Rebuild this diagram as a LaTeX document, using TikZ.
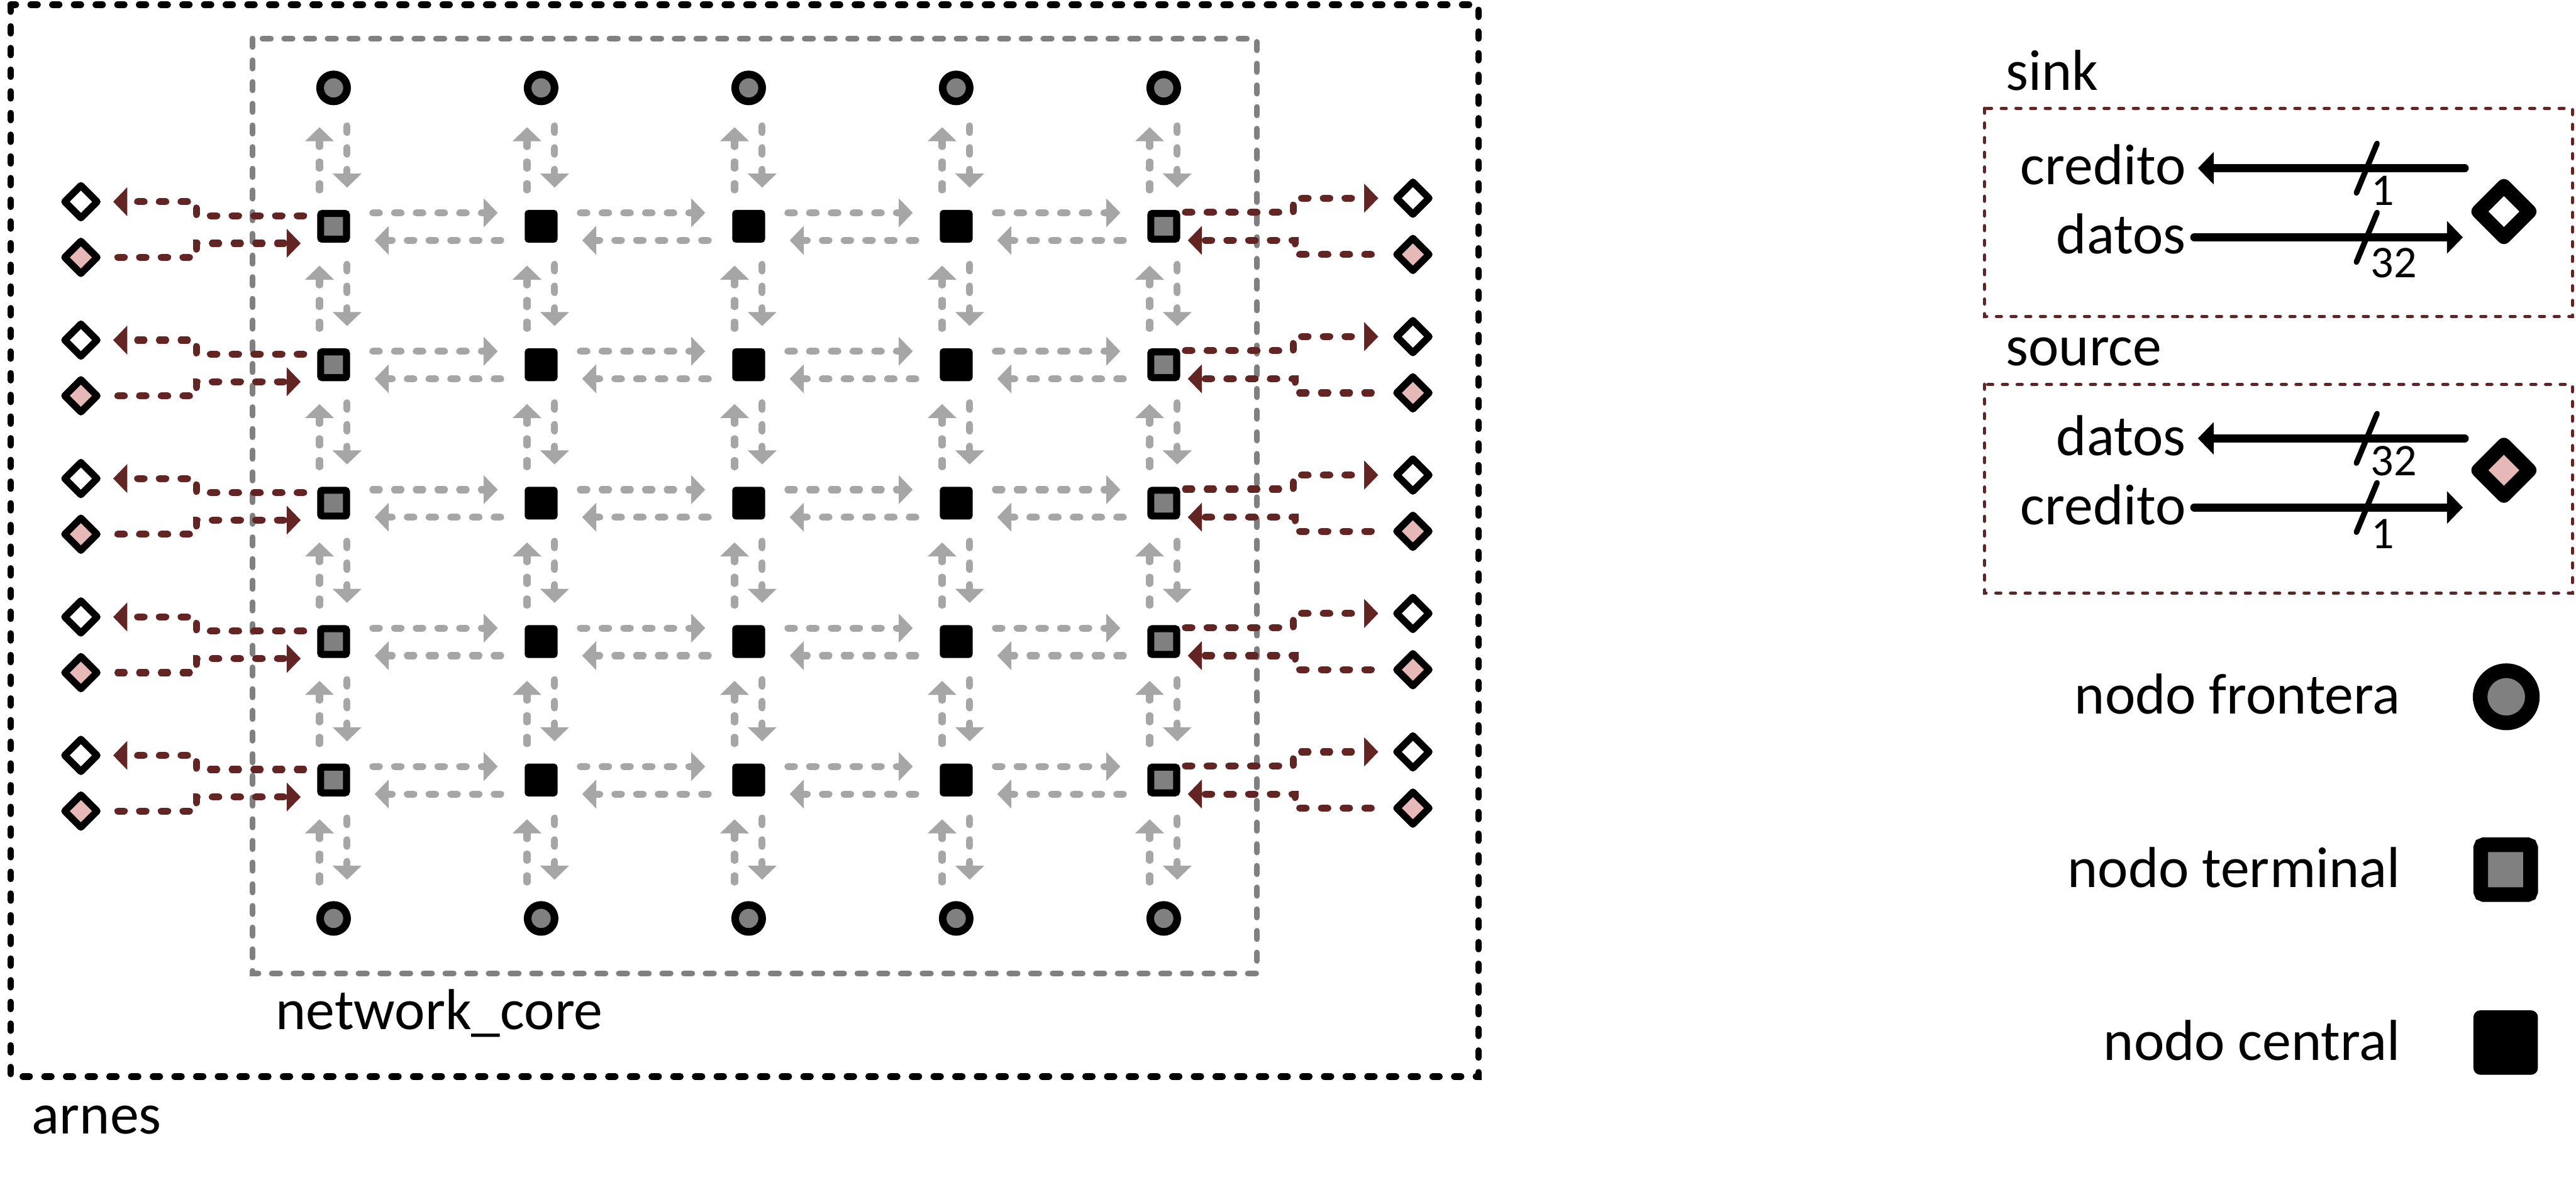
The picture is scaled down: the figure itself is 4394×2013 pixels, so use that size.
\documentclass[tikz,border=0pt]{standalone}
\usepackage{fontspec}
\setmainfont{Carlito}
\usetikzlibrary{arrows.meta,calc,shapes.geometric}
\definecolor{dred}{HTML}{632523}
\definecolor{pinkf}{HTML}{E6B9B8}
\definecolor{gfill}{HTML}{808080}
\definecolor{garr}{HTML}{A6A6A6}
\definecolor{gcore}{HTML}{808080}
\begin{document}
\begin{tikzpicture}[x=0.01cm,y=-0.01cm,
  lbl/.style={font=\fontsize{28}{34}\selectfont, inner sep=0pt},
  num/.style={font=\fontsize{22}{26}\selectfont, inner sep=0pt},
  frontera/.style={circle, draw=black, fill=gfill, line width=3.70pt, minimum size=13.09pt, inner sep=0pt},
  terminal/.style={rectangle, draw=black, fill=gfill, line width=3.41pt, minimum size=12.52pt, inner sep=0pt, rounded corners=0.8pt},
  central/.style={rectangle, fill=black, minimum size=15.93pt, inner sep=0pt, rounded corners=1.7pt},
  sinkd/.style={diamond, draw=black, fill=white, line width=3.41pt, minimum size=17.07pt, inner sep=0pt, line join=round},
  srcd/.style={sinkd, fill=pinkf},
  garrow/.style={draw=garr, line width=3.41pt, line cap=round, dash pattern=on 3.13pt off 7.4pt, -{Triangle[length=6.83pt,width=13.66pt]}},
  rarrow/.style={garrow, draw=dred},
  lfront/.style={frontera, line width=7.11pt, minimum size=25.3pt},
  lterm/.style={terminal, line width=7.11pt, minimum size=24.2pt, rounded corners=1.5pt},
  lcent/.style={central, minimum size=31.3pt, rounded corners=3.4pt},
  lsink/.style={sinkd, line width=6.83pt, minimum size=27.6pt},
  lsrc/.style={lsink, fill=pinkf},
  larrow/.style={draw=black, line width=4pt, line cap=round, -{Triangle[length=7.68pt,width=15.36pt]}},
  slashline/.style={draw=black, line width=2.73pt, line cap=round},
  boxr/.style={draw=dred, line width=1.71pt, line cap=round, dash pattern=on 2.28pt off 4.84pt},
  arnesbox/.style={draw=black, line width=3.13pt, line cap=round, dash pattern=on 3.41pt off 7.11pt},
  corebox/.style={draw=gcore, line width=2.85pt, line cap=round, dash pattern=on 3.98pt off 6.54pt}
]
\useasboundingbox (0,0) rectangle (4394,2013);

% containers
\draw[arnesbox] (18,8) rectangle (2522,1837);
\draw[corebox] (431,66) rectangle (2144,1661);
\node[lbl, anchor=base west] (corelbl) at (470,1757) {network\_core};
\node[lbl, anchor=base west] (arneslbl) at (54,1935) {arnes};

% nodes
\foreach \ci in {1,...,5}{
  \foreach \ri in {0,6}{
    \node[frontera] (n\ci\ri) at ({569+354*(\ci-1)},{150+236.2*\ri}) {};
  }
}
\foreach \ci in {1,5}{
  \foreach \ri in {1,...,5}{
    \node[terminal] (n\ci\ri) at ({569+354*(\ci-1)},{150+236.2*\ri}) {};
  }
}
\foreach \ci in {2,3,4}{
  \foreach \ri in {1,...,5}{
    \node[central] (n\ci\ri) at ({569+354*(\ci-1)},{150+236.2*\ri}) {};
  }
}

% vertical arrows
\foreach \ci in {1,...,5}{
  \foreach \ri [evaluate=\ri as \rnext using {int(\ri+1)}] in {0,...,5}{
    \draw[garrow] ($(n\ci\rnext)+(-24,-62)$) -- ($(n\ci\ri)+(-24,67)$);
    \draw[garrow] ($(n\ci\ri)+(23,65)$) -- ($(n\ci\rnext)+(23,-66)$);
  }
}
% horizontal arrows
\foreach \ci [evaluate=\ci as \cnext using {int(\ci+1)}] in {1,...,4}{
  \foreach \ri in {1,...,5}{
    \draw[garrow] ($(n\ci\ri)+(67,-23)$) -- ($(n\cnext\ri)+(-74,-23)$);
    \draw[garrow] ($(n\cnext\ri)+(-69,24)$) -- ($(n\ci\ri)+(70,24)$);
  }
}

% sinks and sources of the harness
\foreach \ri in {1,...,5}{
  \node[sinkd] (wl\ri) at ($(n1\ri)+(-431,-42)$) {};
  \node[srcd]  (pl\ri) at ($(n1\ri)+(-431,53)$) {};
  \node[sinkd] (wr\ri) at ($(n5\ri)+(425,-48)$) {};
  \node[srcd]  (pr\ri) at ($(n5\ri)+(425,48)$) {};
  \draw[rarrow] ($(n1\ri)+(-51,-18)$) -- ($(n1\ri)+(-234,-18)$) -- ($(n1\ri)+(-234,-42)$) -- ($(wl\ri)+(55,0)$);
  \draw[rarrow] ($(pl\ri)+(63,0)$) -- ($(n1\ri)+(-234,53)$) -- ($(n1\ri)+(-234,29)$) -- ($(n1\ri)+(-56,29)$);
  \draw[rarrow] ($(n5\ri)+(37,-24)$) -- ($(n5\ri)+(221,-24)$) -- ($(n5\ri)+(221,-48)$) -- ($(wr\ri)+(-59,0)$);
  \draw[rarrow] ($(pr\ri)+(-71,0)$) -- ($(n5\ri)+(224,48)$) -- ($(n5\ri)+(224,24)$) -- ($(n5\ri)+(41,24)$);
}

% legend: sink
\node[lbl, anchor=base west] (sinklbl) at (3421,154) {sink};
\draw[boxr] (3385,185) rectangle (4388,540);
\node[lsink] (sd) at (4271,361) {};
\node[lbl, anchor=base east] (skcred) at (3729,315) {credito};
\node[lbl, anchor=base east] (skdat) at (3729,433) {datos};
\draw[larrow] ($(sd)+(-67,-74)$) -- ($(skcred.base east)+(20,-28)$);
\draw[larrow] ($(skdat.base east)+(14,-28)$) -- ($(sd)+(-70,44)$);
\draw[slashline] (4019.5,329) -- (4054.5,245);
\draw[slashline] (4019.5,447) -- (4054.5,363);
\node[num, anchor=base west] (sk1) at (4044,350) {1};
\node[num, anchor=base west] (sk32) at (4043,474) {32};

% legend: source
\node[lbl, anchor=base west] (srclbl) at (3421,624) {source};
\draw[boxr] (3385,656) rectangle (4388,1012);
\node[lsrc] (pd) at (4271,802.5) {};
\node[lbl, anchor=base east] (srdat) at (3729,777) {datos};
\node[lbl, anchor=base east] (srcred) at (3729,895) {credito};
\draw[larrow] ($(pd)+(-67,-54.5)$) -- ($(srdat.base east)+(20,-29)$);
\draw[larrow] ($(srcred.base east)+(14,-29)$) -- ($(pd)+(-70,63.5)$);
\draw[slashline] (4019.5,790) -- (4054.5,706);
\draw[slashline] (4019.5,908) -- (4054.5,824);
\node[num, anchor=base west] (sr32) at (4043,812) {32};
\node[num, anchor=base west] (sr1) at (4044,936) {1};

% legend: node kinds
\node[lfront] (lf) at (4275,1189) {};
\node[lbl, anchor=base east] (lftxt) at (4095,1218) {nodo frontera};
\node[lterm] (lt) at (4274,1484) {};
\node[lbl, anchor=base east] (lttxt) at (4095,1514) {nodo terminal};
\node[lcent] (lc) at (4274,1779) {};
\node[lbl, anchor=base east] (lctxt) at (4095,1809) {nodo central};
\end{tikzpicture}
\end{document}
